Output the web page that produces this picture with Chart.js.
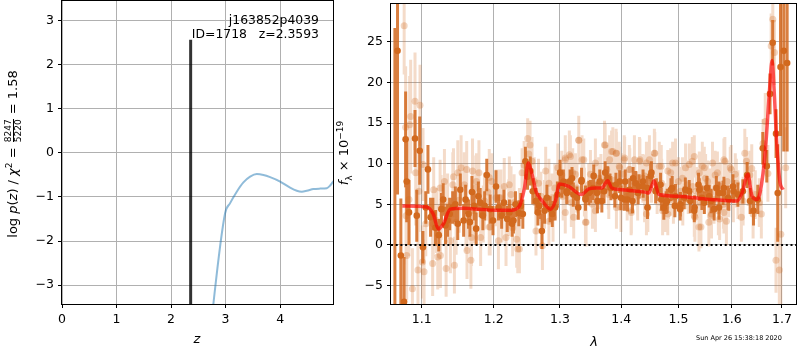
<!DOCTYPE html>
<html>
<head>
<meta charset="utf-8">
<script src="https://cdn.jsdelivr.net/npm/chart.js@4.4.0/dist/chart.umd.min.js"></script>
<style>
  html, body { margin: 0; padding: 0; background: #fff; }
  #wrap { position: relative; width: 800px; height: 350px; font-family: "DejaVu Sans", sans-serif; color: #000; }
  .panel { position: absolute; top: 0; height: 350px; }
  .txt { position: absolute; white-space: pre; font-size: 12.4px; line-height: 13.5px; }
  .lab { position: absolute; white-space: nowrap; font-size: 13px; line-height: 1; transform: translate(-50%, -50%); }
  .vlab { position: absolute; white-space: nowrap; font-size: 13px; line-height: 20px; height: 20px;
          text-align: center; transform: rotate(-90deg); }
  .frac { display: inline-flex; flex-direction: column; vertical-align: middle; font-size: 9px; line-height: 9px; text-align: center; margin: 0 1px; }
  .frac span:first-child { border-bottom: 1px solid #000; }
  sup, sub { font-size: 9px; line-height: 0; }
</style>
</head>
<body>
<div id="wrap">
  <div class="panel" style="left:0;width:340px"><canvas id="pz"></canvas></div>
  <div class="panel" style="left:340px;width:460px"><canvas id="spec"></canvas></div>
  <div class="txt" style="right:481px;top:13px;text-align:right">j163852p4039
ID=1718   z=2.3593</div>
  <div class="vlab" style="left:-87px;top:144px;width:200px">log <i>p</i>(<i>z</i>) / <i>χ</i><sup>2</sup> = <span class="frac"><span>8247</span><span>5220</span></span> = 1.58</div>
  <div class="vlab" style="left:294px;top:143px;width:100px"><i>f</i><sub>λ</sub> × 10<sup>−19</sup></div>
  <div class="lab" style="left:197px;top:338px"><i>z</i></div>
  <div class="lab" style="left:594px;top:341px"><i>λ</i></div>
  <div style="position:absolute;left:696px;top:335px;font-size:6.5px;line-height:1;white-space:nowrap">Sun Apr 26 15:38:18 2020</div>
</div>
<script>
// p(z) curve
const zGrid = [2.70, 2.776, 2.991, 3.083, 3.205, 3.327, 3.450, 3.572, 3.694, 3.817, 4.000,
  4.183, 4.306, 4.398, 4.489, 4.612, 4.734, 4.856, 4.917, 4.979];
const logPz = [-4.4, -3.43, -1.37, -1.14, -0.88, -0.67, -0.54, -0.48, -0.50, -0.55, -0.65,
  -0.79, -0.86, -0.88, -0.86, -0.82, -0.81, -0.80, -0.74, -0.64];
const zBest = 2.3593;
const zBestTop = 2.57;
const zTicks = [0, 1, 2, 3, 4];
const logPTicks = [-3, -2, -1, 0, 1, 2, 3];

// spectrum: template fit
const lamModel = [1.0746, 1.1065, 1.1155, 1.1224, 1.1293, 1.1385, 1.1568, 1.1798, 1.2030, 1.2254,
  1.2379, 1.2454, 1.2513, 1.2569, 1.2629, 1.2728, 1.2853, 1.2928, 1.2993, 1.3137, 1.3343, 1.3461,
  1.3569, 1.3675, 1.3772, 1.3840, 1.3998, 1.4404, 1.4473, 1.4566, 1.4650, 1.4983, 1.5291, 1.5599,
  1.6101, 1.6200, 1.6312, 1.6397, 1.6496, 1.6561, 1.6660, 1.6747, 1.6798, 1.6838, 1.6891, 1.6957, 1.7024];
const fluxModel = [4.8, 4.67, 3.8, 1.95, 2.6, 4.4, 4.5, 4.4, 4.27, 4.27,
  4.8, 7.0, 10.1, 8.7, 6.6, 5.4, 4.4, 5.4, 7.5, 7.2, 6.2, 6.9,
  7.0, 7.0, 7.9, 7.0, 6.8, 6.5, 6.4, 7.9, 6.2, 6.0, 5.8, 5.6,
  5.4, 6.4, 8.7, 6.0, 5.6, 6.6, 11.5, 19.2, 22.7, 19.2, 12.7, 7.8, 6.8];

// spectrum: binned points
const lamDark = [1.0650, 1.0684, 1.0727, 1.0769, 1.0789, 1.0803, 1.0833, 1.0912, 1.0935, 1.0974,
  1.1017, 1.1055, 1.1084, 1.1119, 1.1186, 1.1266, 1.1321, 1.1379, 1.1457, 1.1526, 1.1572, 1.1641,
  1.1689, 1.1749, 1.1806, 1.1844, 1.1900, 1.1948, 1.2034, 1.2116, 1.2198, 1.2271, 1.2321, 1.2370,
  1.2430, 1.2469, 1.2543, 1.2629, 1.2659, 1.2720, 1.2797, 1.2847, 1.2924, 1.3002, 1.3054, 1.3107,
  1.3160, 1.3212, 1.3291, 1.3344, 1.3408, 1.3463, 1.3532, 1.3602, 1.3641, 1.3712, 1.3773, 1.3827,
  1.3910, 1.3994, 1.4067, 1.4107, 1.4191, 1.4248, 1.4304, 1.4373, 1.4448, 1.4506, 1.4593, 1.4680,
  1.4738, 1.4799, 1.4888, 1.4947, 1.5037, 1.5127, 1.5218, 1.5297, 1.5370, 1.5432, 1.5525, 1.5605,
  1.5704, 1.5755, 1.5831, 1.5926, 1.6022, 1.6118, 1.6215, 1.6299, 1.6358, 1.6425, 1.6510, 1.6610,
  1.6690, 1.6756, 1.6810, 1.6878, 1.6912, 1.6970, 1.7037, 1.7106,
  1.1150, 1.1230, 1.1290, 1.1350, 1.1420, 1.1490, 1.1600, 1.1660, 1.1720, 1.1780, 1.1870, 1.1990,
  1.2070, 1.2150, 1.2230, 1.2290, 1.2400, 1.2500, 1.2580, 1.2680, 1.2760, 1.2880, 1.2960,
  1.3029, 1.3110, 1.3191, 1.3271, 1.3343, 1.3407, 1.3488, 1.3541, 1.3595, 1.3675, 1.3730, 1.3811,
  1.3892, 1.3973, 1.4057, 1.4144, 1.4201, 1.4288, 1.4375, 1.4450, 1.4519, 1.4606, 1.4693, 1.4779,
  1.4866, 1.4936, 1.5032, 1.5106, 1.5198, 1.5291, 1.5384, 1.5477, 1.5569, 1.5662, 1.5755, 1.5848,
  1.5941, 1.6036];
const fluxDark = [-9.0, 23.9, -1.3, -7.0, 13.0, 7.8, 4.0, 13.1, 3.6, 11.6,
  -0.3, 4.6, 9.3, 3.4, 2.1, 4.4, 2.4, 3.8, 5.0, 6.8, 3.0, 3.8,
  6.5, 2.0, 5.2, 3.6, 8.6, 4.4, 7.2, 3.6, 3.2, 2.6, 5.0, 3.9,
  3.8, 10.3, 9.1, 5.4, 4.0, 1.7, 5.8, 4.4, 4.6, 8.9, 7.8, 6.6,
  7.8, 6.2, 4.6, 8.0, 5.8, 6.4, 7.0, 5.4, 7.8, 6.6, 8.2, 7.0,
  7.4, 5.8, 7.8, 5.6, 5.4, 7.6, 7.2, 7.8, 7.0, 8.5, 6.6, 7.4,
  4.6, 5.4, 7.0, 6.0, 5.0, 6.8, 5.4, 4.6, 7.4, 5.8, 7.0, 5.4,
  7.0, 4.6, 6.4, 5.8, 7.2, 6.2, 6.6, 8.6, 5.4, 4.2, 5.6, 11.9,
  9.7, 18.6, 24.9, 13.7, 6.4, 21.9, 23.9, 22.4,
  3.8, 1.2, 5.6, 3.0, 4.6, 2.6, 5.6, 2.8, 4.8, 6.0, 4.8, 3.0,
  4.6, 5.2, 4.0, 3.0, 4.8, 8.4, 6.6, 4.8, 4.2, 3.8, 6.2,
  7.2, 6.4, 8.2, 5.8, 7.8, 5.6, 6.6, 8.5, 6.4, 5.4, 8.9, 7.4,
  6.0, 7.8, 5.6, 6.8, 8.2, 6.4, 7.2, 4.6, 8.9, 6.8, 5.6, 5.2,
  6.8, 4.8, 4.4, 5.8, 6.6, 4.2, 6.8, 5.2, 6.0, 4.4, 6.4, 7.0,
  5.6, 6.6];
const errDark = [35.7, 17.7, 7.0, 5.5, 5.9, 5.0, 4.0, 3.5, 3.2, 4.2,
  2.0, 2.0, 3.0, 2.4, 2.2, 2.0, 2.3, 2.0, 2.2, 2.0, 2.0, 1.8,
  2.0, 2.0, 1.8, 1.8, 2.0, 1.8, 2.0, 1.6, 1.6, 1.6, 1.6, 1.6,
  1.8, 1.8, 1.8, 1.6, 1.6, 2.2, 1.6, 1.6, 1.6, 1.6, 1.5, 1.5,
  1.5, 1.5, 1.5, 1.5, 1.5, 1.5, 1.5, 1.5, 1.5, 1.5, 1.5, 1.5,
  1.5, 1.5, 1.5, 1.5, 1.5, 1.5, 1.5, 1.5, 1.5, 1.5, 1.5, 1.5,
  1.5, 1.5, 1.5, 1.5, 1.5, 1.5, 1.5, 1.5, 1.5, 1.5, 1.5, 1.5,
  1.5, 1.5, 1.5, 1.5, 1.5, 1.5, 1.5, 1.6, 1.6, 1.8, 1.8, 2.0,
  2.0, 2.5, 2.8, 3.0, 6.0, 8.5, 12.4, 10.9,
  2.0, 2.0, 2.0, 2.0, 2.0, 2.0, 1.8, 1.8, 1.8, 1.8, 1.8, 1.8,
  1.6, 1.6, 1.6, 1.6, 1.6, 1.6, 1.6, 1.6, 1.6, 1.6, 1.6,
  1.4, 1.4, 1.4, 1.4, 1.4, 1.4, 1.4, 1.4, 1.4, 1.4, 1.4, 1.4,
  1.4, 1.4, 1.4, 1.4, 1.4, 1.4, 1.4, 1.4, 1.4, 1.4, 1.4, 1.4,
  1.4, 1.4, 1.4, 1.4, 1.4, 1.4, 1.4, 1.4, 1.4, 1.4, 1.4, 1.4,
  1.4, 1.4];

// spectrum: individual exposures
const lamLight = [1.0770, 1.0789, 1.0795, 1.0803, 1.0833, 1.0855, 1.0878, 1.0912, 1.0921, 1.0951,
  1.0964, 1.0978, 1.1010, 1.1032, 1.1055, 1.1147, 1.1161, 1.1200, 1.1216, 1.1252, 1.1261, 1.1307,
  1.1330, 1.1350, 1.1389, 1.1422, 1.1444, 1.1468, 1.1491, 1.1510, 1.1537, 1.1582, 1.1605, 1.1619,
  1.1674, 1.1697, 1.1720, 1.1743, 1.1788, 1.1812, 1.1850, 1.1867, 1.1915, 1.1949, 1.1972, 1.2034,
  1.2069, 1.2105, 1.2120, 1.2154, 1.2180, 1.2220, 1.2254, 1.2278, 1.2300, 1.2338, 1.2379, 1.2419,
  1.2450, 1.2503, 1.2520, 1.2539, 1.2569, 1.2603, 1.2640, 1.2668, 1.2704, 1.2728, 1.2760, 1.2778,
  1.2828, 1.2877, 1.2892, 1.2920, 1.2967, 1.3050, 1.3084, 1.3149, 1.3180, 1.3202, 1.3270, 1.3299,
  1.3352, 1.3390, 1.3417, 1.3488, 1.3520, 1.3569, 1.3622, 1.3660, 1.3719, 1.3756, 1.3790, 1.3804,
  1.3858, 1.3890, 1.3913, 1.3966, 1.3994, 1.4020, 1.4050, 1.4100, 1.4137, 1.4167, 1.4210, 1.4224,
  1.4280, 1.4311, 1.4370, 1.4400, 1.4457, 1.4484, 1.4520, 1.4571, 1.4620, 1.4658, 1.4700, 1.4717,
  1.4774, 1.4820, 1.4861, 1.4910, 1.4948, 1.5000, 1.5037, 1.5080, 1.5130, 1.5160, 1.5180, 1.5254,
  1.5302, 1.5330, 1.5377, 1.5400, 1.5440, 1.5480, 1.5501, 1.5562, 1.5590, 1.5612, 1.5660, 1.5681,
  1.5742, 1.5780, 1.5840, 1.5866, 1.5896, 1.5940, 1.5989, 1.6030, 1.6087, 1.6120, 1.6186, 1.6220,
  1.6253, 1.6285, 1.6320, 1.6352, 1.6390, 1.6417, 1.6460, 1.6540, 1.6581, 1.6615, 1.6660, 1.6713,
  1.6779, 1.6812, 1.6846, 1.6877, 1.6945, 1.6976, 1.7076,
  1.3084, 1.3165, 1.3299, 1.3380, 1.3730, 1.3837, 1.3918, 1.3973, 1.4057, 1.4144, 1.4318, 1.4432,
  1.4578, 1.4693, 1.4809, 1.4896, 1.5198, 1.5291, 1.5384, 1.5477, 1.5631, 1.5724, 1.5848, 1.5970,
  1.3084, 1.3218, 1.3407, 1.3569, 1.3918, 1.4172, 1.4432, 1.4751, 1.4809, 1.5291, 1.5414, 1.5600,
  1.5766, 1.5848,
  1.3138, 1.3246, 1.3461, 1.3622, 1.3783, 1.4028, 1.4231, 1.4404, 1.4635, 1.4866, 1.5074, 1.5260,
  1.5538, 1.5692, 1.5909, 1.6067,
  1.0842, 1.1018, 1.1248, 1.1431, 1.1615, 1.1753, 1.1936, 1.2079, 1.2229, 1.2379, 1.2629, 1.2828,
  1.3029, 1.1155, 1.1683, 1.1936, 1.2354];
const fluxLight = [27.0, 14.5, 3.6, -1.3, 5.6, 15.8, -5.4, 17.7, 8.9, -3.1,
  6.6, 17.2, -2.1, -3.3, 2.6, -2.3, 6.8, 3.0, -1.5, -1.3, 4.6, 7.8,
  -2.9, 4.8, 0.5, 7.4, -2.5, 2.8, 8.9, 5.5, 9.5, 7.4, 3.2, -0.7,
  -1.9, 9.1, 4.2, 7.0, 8.9, 0.9, 3.8, 5.4, 6.5, 2.2, 7.8, 5.8,
  0.5, 5.8, 3.8, 7.2, 0.9, 4.6, 6.2, 2.1, 5.2, 0.7, -0.5, 8.9,
  9.8, 13.1, 11.2, 12.3, 10.3, 7.8, 5.4, 7.6, 6.0, -0.1, 5.0, 9.1,
  7.6, 5.8, 3.4, 7.0, 9.5, 6.0, 10.5, 11.1, 5.2, 8.9, 7.0, 12.9,
  10.5, 6.5, 2.8, 8.7, 5.0, 10.1, 7.4, 8.2, 12.3, 9.3, 6.2, 10.5,
  11.5, 8.0, 11.3, 9.7, 4.6, 7.2, 10.5, 6.0, 9.3, 4.2, 7.8, 10.5,
  6.0, 10.3, 8.2, 5.8, 4.6, 10.5, 8.2, 11.3, 6.8, 9.7, 7.6, 4.2,
  4.6, 6.2, 8.9, 5.6, 10.1, 7.8, 6.6, 5.4, 9.5, 7.4, 6.8, 10.3,
  3.4, 6.6, 2.2, 5.2, 9.7, 6.8, 8.2, 2.8, 6.4, 3.8, 5.6, 8.6,
  4.2, 7.2, 5.0, 10.3, 2.9, 6.4, 9.3, 5.8, 7.6, 6.2, 3.4, 5.4,
  11.3, 10.3, 7.8, 8.6, 9.4, 3.8, 6.2, 5.2, 3.8, 12.5, 15.2, 8.8,
  24.5, 27.8, 23.7, -1.9, -3.1, 1.3, 9.5,
  10.7, 10.9, 12.9, 10.5, 12.3, 11.5, 11.3, 9.5, 10.7, 9.3, 10.5, 10.1,
  11.3, 9.7, 9.1, 10.1, 9.9, 10.9, 8.9, 9.5, 10.1, 8.9, 10.5, 9.5,
  4.0, 3.4, 2.8, 4.2, 4.6, 4.0, 3.8, 4.2, 3.8, 3.6, 2.2, 3.6,
  3.2, 4.0,
  7.8, 8.7, 7.4, 8.2, 7.0, 8.7, 7.4, 8.5, 7.4, 6.2, 8.2, 7.2,
  7.8, 7.0, 7.8, 8.7,
  14.8, 9.9, 7.0, 8.4, 9.3, 7.8, 8.3, 5.8, 7.4, 4.0, 1.7, 2.9,
  8.6, 2.6, 0.9, 2.2, -0.5];
const errLight = [6.0, 7.5, 6.0, 5.5, 7.0, 7.0, 5.0, 6.0, 6.5, 5.5,
  5.0, 5.0, 4.5, 4.0, 4.0, 4.0, 4.0, 4.0, 4.0, 4.0, 4.0, 4.0,
  3.5, 4.0, 4.0, 4.0, 3.5, 4.0, 4.0, 4.0, 4.0, 4.0, 4.0, 3.5,
  3.5, 4.0, 4.0, 4.0, 4.0, 3.5, 3.5, 3.5, 3.5, 3.5, 3.5, 3.5,
  3.5, 3.5, 3.5, 3.5, 3.5, 3.5, 3.5, 3.5, 3.5, 3.5, 3.0, 3.0,
  3.0, 2.5, 3.0, 3.0, 3.0, 3.0, 3.0, 3.0, 3.0, 3.0, 3.0, 3.0,
  3.0, 3.0, 3.0, 3.0, 3.0, 3.0, 3.0, 3.0, 3.0, 3.0, 3.0, 3.0,
  3.0, 3.0, 3.0, 3.0, 3.0, 3.0, 3.0, 3.0, 3.0, 3.0, 3.0, 3.0,
  3.0, 3.0, 3.0, 3.0, 3.0, 3.0, 3.0, 3.0, 3.0, 3.0, 3.0, 3.0,
  3.0, 3.0, 3.0, 3.0, 3.0, 3.0, 3.0, 3.0, 3.0, 3.0, 3.0, 3.0,
  3.0, 3.0, 3.0, 3.0, 3.0, 3.0, 3.0, 3.0, 3.0, 3.0, 3.0, 3.0,
  3.0, 3.0, 3.0, 3.0, 3.0, 3.0, 3.0, 3.0, 3.0, 3.0, 3.0, 3.0,
  3.0, 3.0, 3.0, 3.0, 3.0, 3.0, 3.0, 3.0, 3.0, 3.0, 3.0, 3.0,
  3.0, 3.0, 3.0, 3.0, 3.0, 3.0, 3.0, 3.0, 3.0, 3.0, 3.5, 3.5,
  4.0, 4.0, 4.0, 4.0, 4.5, 30.0, 5.0,
  2.6, 2.6, 2.6, 2.6, 2.6, 2.6, 2.6, 2.6, 2.6, 2.6, 2.6, 2.6,
  2.6, 2.6, 2.6, 2.6, 2.6, 2.6, 2.6, 2.6, 2.6, 2.6, 2.6, 2.6,
  2.6, 2.6, 2.6, 2.6, 2.6, 2.6, 2.6, 2.6, 2.6, 2.6, 2.6, 2.6,
  2.6, 2.6,
  2.6, 2.6, 2.6, 2.6, 2.6, 2.6, 2.6, 2.6, 2.6, 2.6, 2.6, 2.6,
  2.6, 2.6, 2.6, 2.6,
  6.0, 4.5, 3.5, 3.5, 3.5, 3.5, 3.5, 3.5, 3.5, 3.0, 3.0, 3.0,
  3.0, 4.0, 3.5, 3.5, 3.0];
const lamTicks = [1.1, 1.2, 1.3, 1.4, 1.5, 1.6, 1.7];
const fluxTicks = [-5, 0, 5, 10, 15, 20, 25];

const lamRange = [1.06, 1.729];
const fluxRange = [-7.28, 29.67];
const zRange = [0, 4.97];
const logPRange = [-3.43, 3.45];

const tickFont = { family: "'DejaVu Sans', sans-serif", size: 12.5 };
const fmt = v => (v < 0 ? '\u2212' + Math.abs(v) : String(v));

// black box round the plotting area
const frame = {
  id: 'frame',
  afterDatasetsDraw(chart) {
    const { ctx, chartArea: a } = chart;
    ctx.save();
    ctx.strokeStyle = '#000';
    ctx.lineWidth = 1;
    ctx.strokeRect(Math.round(a.left) - 0.5, Math.round(a.top) - 0.5,
      Math.round(a.right - a.left) + 1, Math.round(a.bottom - a.top) + 1);
    ctx.restore();
  }
};

// fixed axis box, no extra room for the end labels
const fixX = h => s => { s.height = h; s.paddingLeft = 0; s.paddingRight = 0; };
const fixY = w => s => { s.width = w; s.paddingTop = 0; s.paddingBottom = 0; };

function axis(range, ticks, fit, extra) {
  return Object.assign({
    min: range[0], max: range[1],
    afterBuildTicks: s => { s.ticks = ticks.map(v => ({ value: v })); },
    afterFit: fit,
    grid: { color: '#b0b0b0', lineWidth: 1, tickColor: '#000', tickLength: 4 },
    border: { display: false },
    ticks: { font: tickFont, color: '#000', padding: 4, maxRotation: 0, autoSkip: false,
      callback: v => fmt(v) }
  }, extra);
}

// vertical segments (low, high) separated by gaps
function barSegments(lam, flux, err) {
  const pts = [];
  lam.forEach((l, i) => {
    pts.push({ x: l, y: flux[i] - err[i] }, { x: l, y: flux[i] + err[i] }, { x: l, y: null });
  });
  return pts;
}
const pairs = (xs, ys) => xs.map((x, i) => ({ x: x, y: ys[i] }));

Chart.defaults.font.family = "'DejaVu Sans', sans-serif";
Chart.defaults.color = '#000';

new Chart(document.getElementById('pz'), {
  type: 'scatter',
  data: {
    datasets: [
      {
        data: [{ x: zBest, y: logPRange[0] - 1 }, { x: zBest, y: zBestTop }],
        showLine: true, borderColor: 'rgba(0,0,0,0.8)', borderWidth: 3, pointRadius: 0, clip: 0
      },
      {
        data: pairs(zGrid, logPz),
        showLine: true, borderColor: 'rgba(31,119,180,0.5)', borderWidth: 2, pointRadius: 0,
        cubicInterpolationMode: 'monotone', clip: 0
      }
    ]
  },
  options: {
    responsive: true, maintainAspectRatio: false, animation: false, events: [],
    layout: { padding: { left: 0, right: 7, top: 1, bottom: 0 } },
    plugins: { legend: { display: false }, tooltip: { enabled: false } },
    scales: {
      x: axis(zRange, zTicks, fixX(46), { type: 'linear' }),
      y: axis(logPRange, logPTicks, fixY(62), { type: 'linear' })
    }
  },
  plugins: [frame]
});

const dark = 'rgb(210,105,30)';
new Chart(document.getElementById('spec'), {
  type: 'scatter',
  data: {
    datasets: [
      {
        data: [{ x: lamRange[0], y: 0 }, { x: lamRange[1], y: 0 }],
        showLine: true, borderColor: '#000', borderWidth: 2, borderDash: [2, 2.7], pointRadius: 0, clip: 0
      },
      {
        data: pairs(lamModel, fluxModel),
        showLine: true, borderColor: 'rgba(255,0,0,0.65)', borderWidth: 3.5, pointRadius: 0,
        cubicInterpolationMode: 'monotone', clip: 0
      },
      {
        data: pairs(lamDark, fluxDark),
        pointRadius: 3.3, pointBorderWidth: 0, pointBackgroundColor: dark, clip: 0
      },
      {
        data: barSegments(lamDark, fluxDark, errDark),
        showLine: true, borderColor: 'rgba(210,105,30,0.85)', borderWidth: 3, pointRadius: 0, clip: 0
      },
      {
        data: pairs(lamLight, fluxLight),
        pointRadius: 3.5, pointBorderWidth: 0, pointBackgroundColor: 'rgba(210,105,30,0.28)', clip: 0
      },
      {
        data: barSegments(lamLight, fluxLight, errLight),
        showLine: true, borderColor: 'rgba(210,105,30,0.24)', borderWidth: 3, pointRadius: 0, clip: 0
      }
    ]
  },
  options: {
    responsive: true, maintainAspectRatio: false, animation: false, events: [],
    layout: { padding: { left: 0, right: 1, top: 1, bottom: 0 } },
    plugins: { legend: { display: false }, tooltip: { enabled: false } },
    scales: {
      x: axis(lamRange, lamTicks, fixX(46),
        { type: 'logarithmic', ticks: { font: tickFont, color: '#000', padding: 4, maxRotation: 0,
          autoSkip: false, callback: v => v.toFixed(1) } }),
      y: axis(fluxRange, fluxTicks, fixY(51), { type: 'linear' })
    }
  },
  plugins: [frame]
});
</script>
</body>
</html>
